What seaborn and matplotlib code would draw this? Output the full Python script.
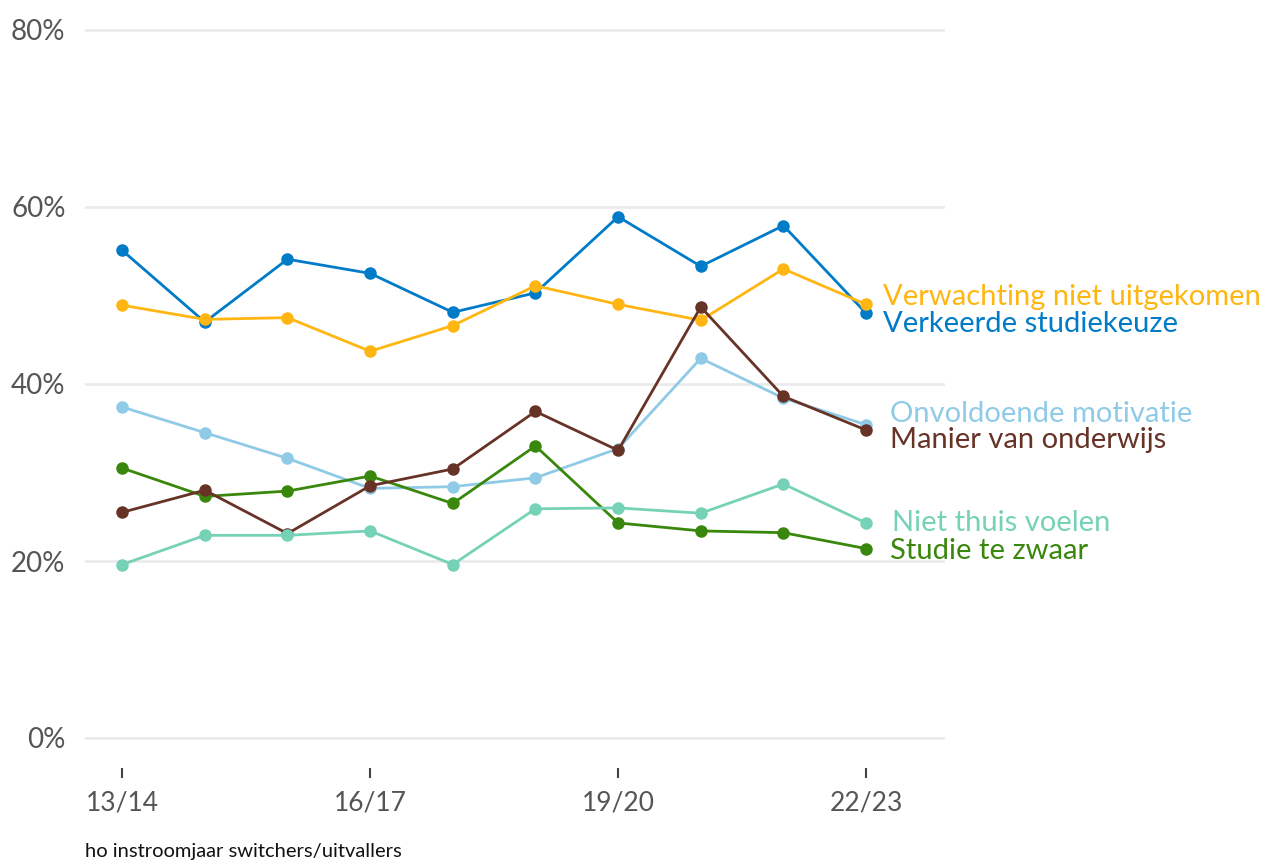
import pandas as pd
import matplotlib.pyplot as plt
import seaborn as sns

# Data (share of switchers/dropouts, %)
years = ['13/14', '14/15', '15/16', '16/17', '17/18', '18/19', '19/20', '20/21', '21/22', '22/23']
verkeerde = [55.1, 47.0, 54.1, 52.5, 48.1, 50.3, 58.9, 53.3, 57.9, 48.0]
verwachting = [48.9, 47.3, 47.5, 43.7, 46.6, 51.1, 49.0, 47.2, 53.0, 49.0]
motivatie = [37.4, 34.5, 31.6, 28.2, 28.4, 29.4, 32.7, 42.9, 38.4, 35.4]
studie_zwaar = [30.5, 27.3, 27.9, 29.6, 26.5, 33.0, 24.3, 23.4, 23.2, 21.4]
onderwijs = [25.5, 28.0, 23.1, 28.5, 30.4, 36.9, 32.5, 48.7, 38.6, 34.8]
thuis = [19.6, 22.9, 22.9, 23.4, 19.6, 25.9, 26.0, 25.4, 28.7, 24.3]
shown_ticks = ['13/14', '16/17', '19/20', '22/23']

series = {
    'Verkeerde studiekeuze': verkeerde,
    'Verwachting niet uitgekomen': verwachting,
    'Onvoldoende motivatie': motivatie,
    'Studie te zwaar': studie_zwaar,
    'Manier van onderwijs': onderwijs,
    'Niet thuis voelen': thuis,
}
colors = {
    'Verkeerde studiekeuze': '#007BC7',
    'Verwachting niet uitgekomen': '#FFB612',
    'Onvoldoende motivatie': '#8FCAE7',
    'Studie te zwaar': '#39870C',
    'Manier van onderwijs': '#673327',
    'Niet thuis voelen': '#76D2B6',
}
# vertical nudge of the end labels (points)
label_offset = {
    'Verwachting niet uitgekomen': 5,
    'Verkeerde studiekeuze': -8,
    'Onvoldoende motivatie': 8,
    'Manier van onderwijs': -7,
    'Niet thuis voelen': 0,
    'Studie te zwaar': -1.5,
}
label_dx = {
    'Verwachting niet uitgekomen': 12,
    'Verkeerde studiekeuze': 12,
    'Onvoldoende motivatie': 17,
    'Manier van onderwijs': 17,
    'Niet thuis voelen': 19,
    'Studie te zwaar': 17,
}

rows = []
for name, vals in series.items():
    for i, v in enumerate(vals):
        rows.append({'idx': i, 'year': years[i], 'pct': v, 'reden': name})
df = pd.DataFrame(rows)

sns.set_style('white')
plt.rcParams['font.family'] = ['Lato', 'DejaVu Sans']

fig = plt.figure(figsize=(12.62, 8.61), dpi=100)
ax = fig.add_axes([85 / 1262, 1 - 768 / 861, (945 - 85) / 1262, (768 - 10) / 861])

order = ['Verkeerde studiekeuze', 'Verwachting niet uitgekomen', 'Onvoldoende motivatie',
         'Studie te zwaar', 'Manier van onderwijs', 'Niet thuis voelen']
sns.lineplot(data=df, x='idx', y='pct', hue='reden', hue_order=order, palette=colors,
             marker='o', markersize=9, markeredgewidth=0, linewidth=2, ax=ax, legend=False)

ax.set_xlim(-0.45, 9.955)
ax.set_ylim((738 - 768) / 8.85, (738 - 10) / 8.85)
ax.set_yticks([0, 20, 40, 60, 80])
ax.set_yticklabels(['0%', '20%', '40%', '60%', '80%'])
ax.yaxis.grid(True, color='#EBEBEB', linewidth=2)
ax.set_xticks([years.index(t) for t in shown_ticks])
ax.set_xticklabels(shown_ticks)
ax.tick_params(axis='y', left=False, length=0, pad=14, labelsize=20, labelcolor='#555555')
ax.tick_params(axis='x', bottom=True, length=7, width=1.5, color='#444444', direction='out', pad=9,
               labelsize=19, labelcolor='#555555')
for s in ax.spines.values():
    s.set_visible(False)
ax.set_xlabel('')
ax.set_ylabel('')

for name, vals in series.items():
    ax.annotate(name, xy=(len(vals) - 1, vals[-1]), xytext=(label_dx[name], label_offset[name]),
                textcoords='offset points', va='center', ha='left', fontsize=21,
                color=colors[name], annotation_clip=False)

fig.text(85 / 1262, 1 - 852 / 861, 'ho instroomjaar switchers/uitvallers', fontsize=14.5,
         color='#111111', va='center', ha='left')

fig.savefig('out.png', dpi=100)
